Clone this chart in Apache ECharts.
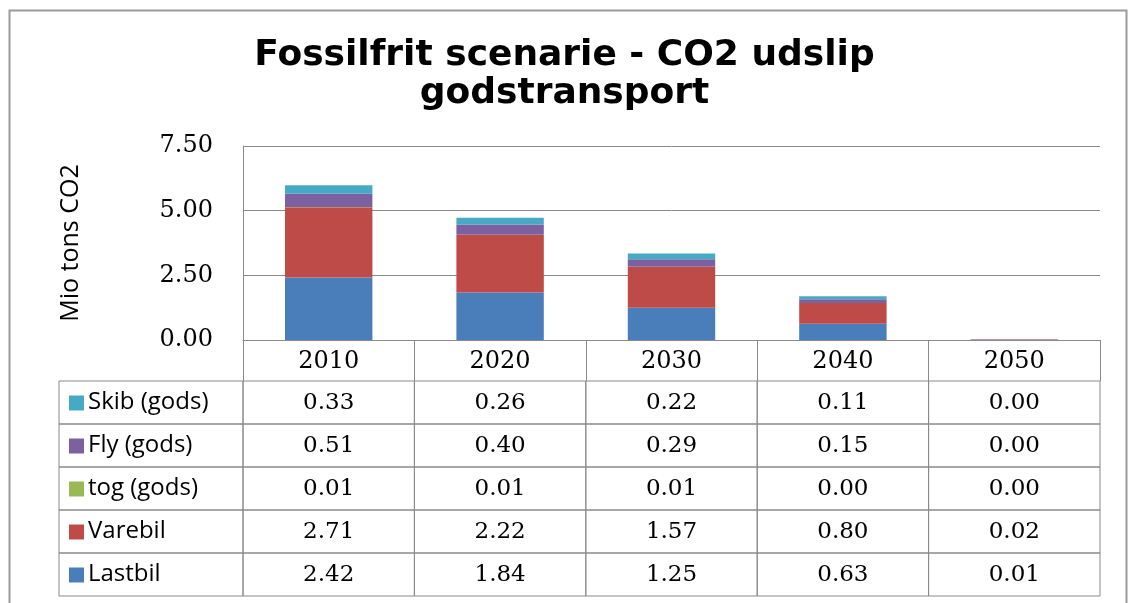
<!DOCTYPE html>
<html><head><meta charset="utf-8">
<script src="https://cdn.jsdelivr.net/npm/echarts@6/dist/echarts.min.js"></script>
<style>html,body{margin:0;padding:0;background:#fff}#c{width:1129px;height:603px}</style>
</head><body><div id="c"></div>
<script>
// ---- data ----
const years = ['2010', '2020', '2030', '2040', '2050'];
const yTicks = [0, 2.5, 5, 7.5];
const lastbil = [2.42, 1.84, 1.25, 0.63, 0.01];
const varebil = [2.71, 2.22, 1.57, 0.80, 0.02];
const tog     = [0.01, 0.01, 0.01, 0.00, 0.00];
const fly     = [0.51, 0.40, 0.29, 0.15, 0.00];
const skib    = [0.33, 0.26, 0.22, 0.11, 0.00];
const seriesNames = ['Lastbil', 'Varebil', 'tog (gods)', 'Fly (gods)', 'Skib (gods)'];
const seriesValues = [lastbil, varebil, tog, fly, skib];
const titleText = 'Fossilfrit scenarie - CO2 udslip\ngodstransport';
const yName = 'Mio tons CO2';

// ---- style ----
const colors = ['#4A7EBB', '#BE4B48', '#98B954', '#7D60A0', '#46AAC5'];
const lineCol = '#8a8a8a';
const numFont = 'DejaVu Serif';
const txtFont = 'Open Sans';

// table rows, top to bottom
const rowNames = seriesNames.slice().reverse();
const rowColors = colors.slice().reverse();
const rowValues = seriesValues.slice().reverse();
const cellData = [];
rowValues.forEach((arr, r) => arr.forEach((v, c) => cellData.push([c, r, v])));
const headData = rowNames.map((n, r) => [0, r]);

const chart = echarts.init(document.getElementById('c'), null, {renderer: 'canvas'});
const barSeries = seriesNames.map((name, i) => ({
  name: name, type: 'bar', stack: 'total', data: seriesValues[i],
  xAxisIndex: 0, yAxisIndex: 0, barWidth: '51%',
  itemStyle: {color: colors[i]}
}));

const option = {
  animation: false,
  backgroundColor: '#fff',
  title: {
    text: titleText, left: 'center', top: 32,
    textStyle: {fontFamily: 'DejaVu Sans', fontWeight: 'bold', fontSize: 36, lineHeight: 38, color: '#000'}
  },
  graphic: [{
    type: 'rect', shape: {x: 9.5, y: 10.5, width: 1117, height: 620},
    style: {fill: 'none', stroke: '#9a9a9a', lineWidth: 2}, silent: true
  }],
  grid: [
    {left: 243, right: 29, top: 146, height: 194},
    {left: 243, right: 29, top: 381, height: 215}
  ],
  xAxis: [
    {type: 'category', gridIndex: 0, data: years, boundaryGap: true,
     axisLine: {lineStyle: {color: lineCol, width: 1}},
     axisTick: {show: true, interval: 0, length: 41, lineStyle: {color: lineCol}},
     axisLabel: {color: '#000', fontFamily: numFont, fontSize: 24, margin: 10}},
    {type: 'category', gridIndex: 1, data: years, show: false}
  ],
  yAxis: [
    {type: 'value', gridIndex: 0, min: yTicks[0], max: yTicks[yTicks.length - 1], interval: 2.5,
     name: yName, nameLocation: 'middle', nameGap: 160,
     nameTextStyle: {fontFamily: txtFont, fontSize: 25, color: '#000'},
     axisLine: {show: true, lineStyle: {color: lineCol}},
     axisTick: {show: false},
     splitLine: {lineStyle: {color: lineCol, width: 1}},
     axisLabel: {color: '#000', fontFamily: numFont, fontSize: 24, margin: 30,
                 formatter: v => v.toFixed(2)}},
    {type: 'category', gridIndex: 1, data: rowNames, inverse: true, show: false}
  ],
  series: barSeries.concat([
    {
      type: 'custom', xAxisIndex: 1, yAxisIndex: 1, data: cellData, clip: false, silent: true,
      renderItem: function (params, api) {
        const c = api.coord([api.value(0), api.value(1)]);
        const s = api.size([1, 1]);
        return {
          type: 'group', children: [
            {type: 'rect', shape: {x: c[0] - s[0] / 2, y: c[1] - s[1] / 2, width: s[0], height: s[1]},
             style: {fill: 'none', stroke: lineCol, lineWidth: 1}},
            {type: 'text', x: c[0], y: c[1] + 1,
             style: {text: api.value(2).toFixed(2), fill: '#000', font: '23px "' + numFont + '"',
                     align: 'center', verticalAlign: 'middle'}}
          ]
        };
      }
    },
    {
      type: 'custom', xAxisIndex: 1, yAxisIndex: 1, data: headData, clip: false, silent: true,
      renderItem: function (params, api) {
        const r = api.value(1);
        const c = api.coord([0, r]);
        const s = api.size([1, 1]);
        const right = c[0] - s[0] / 2;
        const left = 59;
        return {
          type: 'group', children: [
            {type: 'rect', shape: {x: left, y: c[1] - s[1] / 2, width: right - left, height: s[1]},
             style: {fill: 'none', stroke: lineCol, lineWidth: 1}},
            {type: 'rect', shape: {x: left + 10, y: c[1] - 7, width: 15, height: 15},
             style: {fill: rowColors[r]}},
            {type: 'text', x: left + 29, y: c[1],
             style: {text: rowNames[r], fill: '#000', font: '24px "' + txtFont + '"',
                     align: 'left', verticalAlign: 'middle'}}
          ]
        };
      }
    }
  ])
};
chart.setOption(option);
</script></body></html>
